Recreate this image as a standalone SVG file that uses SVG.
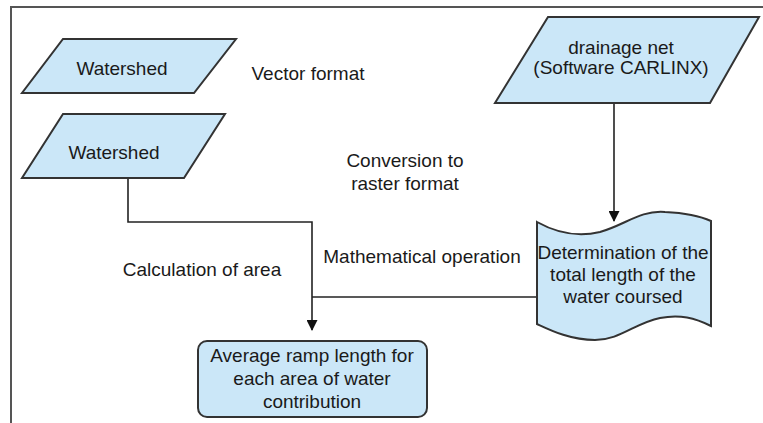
<svg xmlns="http://www.w3.org/2000/svg" width="763" height="423" viewBox="0 0 763 423">
  <style>
    .shape { fill: #cbe7f8; stroke: #333; stroke-width: 2; }
    .lbl { font-family: "Liberation Sans", Arial, sans-serif; font-size: 19px; fill: #1a1a1a; text-anchor: middle; }
    .edge { fill: none; stroke: #222; stroke-width: 1.6; }
    .frame { fill: none; stroke: #555; stroke-width: 2; }
  </style>
  <defs>
    <marker id="arrow" markerWidth="11" markerHeight="11" refX="10" refY="5.5" orient="auto" markerUnits="userSpaceOnUse">
      <path d="M0,0 L11,5.5 L0,11 Z" fill="#111"/>
    </marker>
  </defs>
  <rect width="763" height="423" fill="#fff"/>
  <!-- outer frame (open at right and bottom) -->
  <path class="frame" d="M11,423 L11,7 L763,7"/>

  <!-- free-standing labels -->
  <text class="lbl" x="308" y="80">Vector format</text>
  <text class="lbl" x="405" y="167">Conversion to</text>
  <text class="lbl" x="405" y="190">raster format</text>
  <text class="lbl" x="422" y="263">Mathematical operation</text>
  <text class="lbl" x="202" y="276">Calculation of area</text>

  <g id="connectors">
    <path class="edge" d="M128,178 L128,222 L312,222 L312,330" marker-end="url(#arrow)"/>
    <path class="edge" d="M537,297 L312,297"/>
    <path class="edge" d="M614,103 L614,221" marker-end="url(#arrow)"/>
  </g>

  <g id="watershed-vector">
    <polygon class="shape" points="63,39 236,39 194,93 22,93"/>
    <text class="lbl" x="122" y="75">Watershed</text>
  </g>

  <g id="watershed-raster">
    <polygon class="shape" points="63,114 225,114 184,178 22,178"/>
    <text class="lbl" x="114" y="159">Watershed</text>
  </g>

  <g id="drainage-net">
    <polygon class="shape" points="548,17 759,17 710,103 495,103"/>
    <text class="lbl" x="621" y="54">drainage net</text>
    <text class="lbl" x="621" y="74">(Software CARLINX)</text>
  </g>

  <g id="total-length">
    <path class="shape" d="M537,222 C555,232 575,238 600,232 C625,225 640,210 665,212 C685,213 700,216 711,221 L711,326 C695,318 680,314 660,318 C635,323 620,340 595,340 C570,340 550,330 537,324 Z"/>
    <text class="lbl" x="623" y="259">Determination of the</text>
    <text class="lbl" x="623" y="281">total length of the</text>
    <text class="lbl" x="623" y="303">water coursed</text>
  </g>

  <g id="ramp-length">
    <rect class="shape" x="198" y="341" width="229" height="76" rx="9" ry="9"/>
    <text class="lbl" x="312" y="362">Average ramp length for</text>
    <text class="lbl" x="312" y="385">each area of water</text>
    <text class="lbl" x="312" y="408">contribution</text>
  </g>
</svg>
